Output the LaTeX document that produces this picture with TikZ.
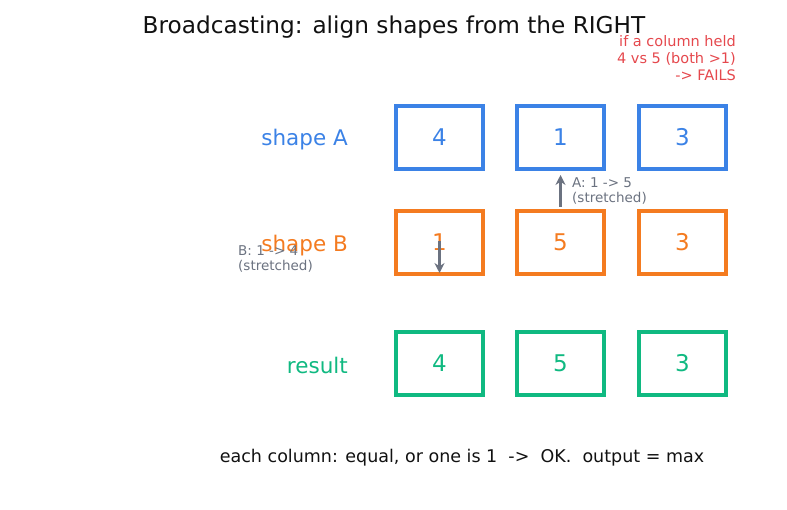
\documentclass[tikz,border=0pt]{standalone}
\usepackage{fontspec}
\setmainfont{DejaVu Sans}
\usetikzlibrary{arrows.meta}
\definecolor{cblue}{HTML}{3B82E6}
\definecolor{corange}{HTML}{F47B20}
\definecolor{cgreen}{HTML}{10B981}
\definecolor{cred}{HTML}{E5484D}
\definecolor{cgray}{HTML}{6B7280}
\definecolor{ctitle}{HTML}{111111}
\begin{document}
\begin{tikzpicture}[x=1pt,y=-1pt,
  cell/.style={draw,line width=3.6pt,minimum width=87.5pt,minimum height=63.5pt,inner sep=0pt,font=\fontsize{23}{27}\selectfont},
  rowlab/.style={anchor=east,inner sep=0pt,font=\fontsize{21.5}{25}\selectfont},
  note/.style={inner sep=0pt,align=left,text=cgray,font=\fontsize{13.5}{15.5}\selectfont},
  garrow/.style={draw=cgray,line width=2.6pt,-{Stealth[length=10pt,width=10pt]}}]
\useasboundingbox (0,0) rectangle (787,510);
\node[text=ctitle,font=\fontsize{23.2}{27}\selectfont] (title) at (394,27.5) {Broadcasting: align shapes from the RIGHT};
\node[anchor=north east,inner sep=0pt,align=right,text=cred,font=\fontsize{14.5}{17}\selectfont] (fail) at (736,35.5) {if a column held\\4 vs 5 (both >1)\\-> FAILS};
% row labels
\node[rowlab,text=cblue] (la) at (348,140) {shape A};
\node[rowlab,text=corange] (lb) at (348,245.5) {shape B};
\node[rowlab,text=cgreen] (lr) at (348,365) {result};
% row A
\node[cell,draw=cblue,text=cblue] (a1) at (439.5,137.5) {4};
\node[cell,draw=cblue,text=cblue] (a2) at (560.5,137.5) {1};
\node[cell,draw=cblue,text=cblue] (a3) at (682.5,137.5) {3};
% row B
\node[cell,draw=corange,text=corange] (b1) at (439.5,242.5) {1};
\node[cell,draw=corange,text=corange] (b2) at (560.5,242.5) {5};
\node[cell,draw=corange,text=corange] (b3) at (682.5,242.5) {3};
% result
\node[cell,draw=cgreen,text=cgreen] (r1) at (439.5,363.5) {4};
\node[cell,draw=cgreen,text=cgreen] (r2) at (560.5,363.5) {5};
\node[cell,draw=cgreen,text=cgreen] (r3) at (682.5,363.5) {3};
% arrows
\coordinate (atail) at (560.5,207);
\coordinate (ahead) at (560.5,175);
\draw[garrow] (atail) -- (ahead);
\coordinate (btail) at (439.5,241);
\coordinate (bhead) at (439.5,273);
\draw[garrow] (btail) -- (bhead);
\node[note,anchor=north west] (na) at (572,177) {A: 1 -> 5\\(stretched)};
\node[note,anchor=north west] (nb) at (238,245) {B: 1 -> 4\\(stretched)};
\node[text=ctitle,font=\fontsize{17.5}{21}\selectfont] (bottom) at (462,458) {each column: equal, or one is 1 \ -> \ OK. \ output = max};
\end{tikzpicture}
\end{document}
